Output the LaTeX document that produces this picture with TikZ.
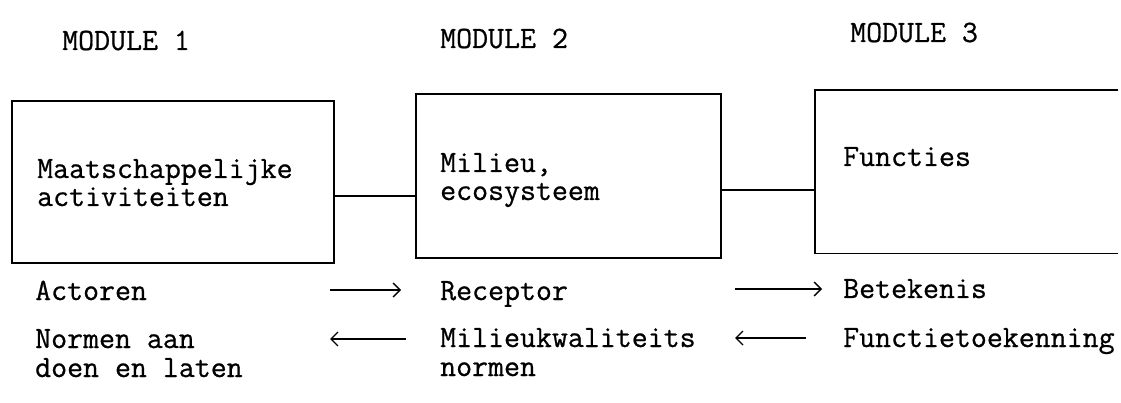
\documentclass[tikz,border=0pt]{standalone}
\usepackage{fontspec}
\newfontfamily\tw{Latin Modern Mono}[FakeBold=0.7]
\usetikzlibrary{arrows.meta}
\begin{document}
\begin{tikzpicture}[x=1pt,y=-1pt,
  txt/.style={anchor=base west,inner sep=0pt,align=left,font=\tw\fontsize{31}{28}\selectfont},
  box/.style={draw,line width=1.6pt,inner sep=0pt},
  link/.style={line width=1.4pt},
  flow/.style={line width=1.4pt,-{Straight Barb[length=7pt,width=14pt,line width=1.4pt]}}]
\useasboundingbox (0,0) rectangle (1121,403);
% module headers
\node[txt] (m1) at (62,50) {MODULE 1};
\node[txt] (m2) at (440,48) {MODULE 2};
\node[txt] (m3) at (850,42) {MODULE 3};
% boxes
\node[box,minimum width=322pt,minimum height=162pt,anchor=north west] (b1) at (11,100) {};
\node[box,minimum width=305pt,minimum height=164pt,anchor=north west] (b2) at (415,93) {};
\node[inner sep=0pt,minimum width=303pt,minimum height=163pt,anchor=north west] (b3) at (815,90) {};
\draw[line width=1.6pt] (b3.north east) -- (b3.north west) -- (b3.south west) -- (b3.south east);
% box texts (anchor = baseline of last line)
\node[txt] (t1) at (37,206) {Maatschappelijke\\activiteiten};
\node[txt] (t2) at (440,200) {Milieu,\\ecosysteem};
\node[txt] (t3) at (843,166) {Functies};
% connectors between boxes
\draw[link] (b1.east |- 0,196) -- (b2.west |- 0,196);
\draw[link] (b2.east |- 0,190) -- (b3.west |- 0,190);
% bottom rows
\node[txt] (act) at (35,300) {Actoren};
\node[txt] (rec) at (440,300) {Receptor};
\node[txt] (bet) at (843,298) {Betekenis};
\node[txt] (nor) at (35,377) {Normen aan\\[1pt]doen en laten};
\node[txt] (mkw) at (440,376) {Milieukwaliteits\\[1pt]normen};
\node[txt] (fto) at (843,347) {Functietoekenning};
% arrows
\coordinate (a1s) at (330,290); \coordinate (a1e) at (401,290);
\coordinate (a2s) at (735,289); \coordinate (a2e) at (822,289);
\coordinate (a3s) at (406,339); \coordinate (a3e) at (330,339);
\coordinate (a4s) at (806,338); \coordinate (a4e) at (735,338);
\draw[flow] (a1s) -- (a1e);
\draw[flow] (a2s) -- (a2e);
\draw[flow] (a3s) -- (a3e);
\draw[flow] (a4s) -- (a4e);
\end{tikzpicture}
\end{document}
